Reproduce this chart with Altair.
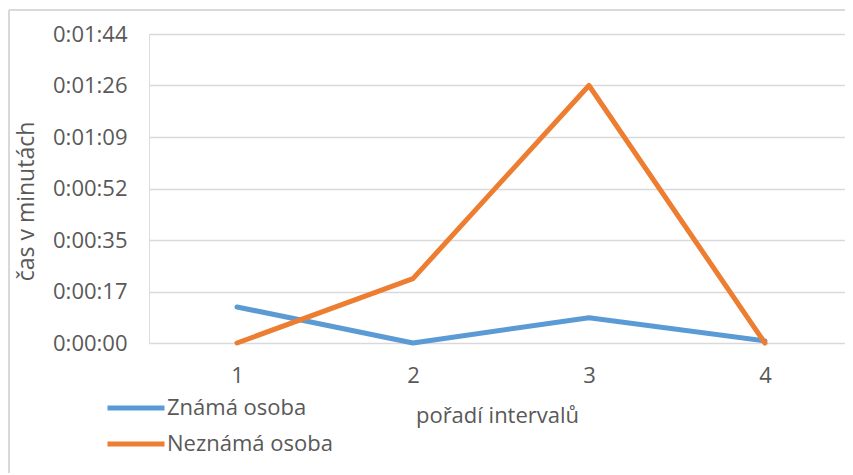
import altair as alt
import pandas as pd

intervals = [1, 2, 3, 4]
known = [12.1, 0.0, 8.5, 0.7]        # seconds
unknown = [0.0, 21.6, 86.4, 0.0]     # seconds
series_names = ["Známá osoba", "Neznámá osoba"]
colors = ["#5B9BD5", "#ED7D31"]
y_ticks = [0, 17.28, 34.56, 51.84, 69.12, 86.4, 103.68]
y_labels = ["0:00:00", "0:00:17", "0:00:35", "0:00:52", "0:01:09", "0:01:26", "0:01:44"]

rows = []
for name, vals in zip(series_names, [known, unknown]):
    for i, v in zip(intervals, vals):
        rows.append({"interval": i, "seconds": v, "series": name})
df = pd.DataFrame(rows)

FONT = "Open Sans"
GREY = "#595959"
FS = 22
label_expr = "[" + ",".join("'" + s + "'" for s in y_labels) + "][round(datum.value / 17.28)]"

lines = alt.Chart(df).mark_line(strokeWidth=5, strokeCap="round", strokeJoin="round").encode(
    x=alt.X("interval:Q",
            scale=alt.Scale(domain=[0.5, 4.4548], nice=False, zero=False),
            axis=alt.Axis(values=intervals, format="d", grid=False, domain=False, ticks=False,
                          labelPadding=22, labelFontSize=FS, labelColor=GREY, labelFont=FONT,
                          title="pořadí intervalů", titleFontSize=FS, titleColor=GREY,
                          titleFont=FONT, titleFontWeight="normal", titlePadding=19)),
    y=alt.Y("seconds:Q",
            scale=alt.Scale(domain=[0, 103.68], nice=False),
            axis=alt.Axis(values=y_ticks, labelExpr=label_expr, grid=True, gridColor="#D9D9D9",
                          gridWidth=1.3, domain=False, ticks=False, labelPadding=22,
                          labelFontSize=FS, labelColor=GREY, labelFont=FONT,
                          title="čas v minutách", titleFontSize=23, titleColor=GREY,
                          titleFont=FONT, titleFontWeight="normal",
                          titleX=-111, titleY=167)),
    color=alt.Color("series:N", sort=series_names,
                    scale=alt.Scale(domain=series_names, range=colors),
                    legend=alt.Legend(title=None, orient="none", legendX=-44, legendY=359,
                                      symbolType="stroke", symbolSize=3249, symbolStrokeWidth=5,
                                      labelFontSize=FS, labelColor=GREY, labelFont=FONT,
                                      labelLimit=400, clipHeight=30,
                                      labelOffset=0, rowPadding=6, direction="vertical")),
    order=alt.Order("interval:Q"),
)

border_left = alt.Chart(df).mark_rule(color="#D9D9D9", strokeWidth=1.2).encode(
    x=alt.value(-140), y=alt.value(-24), y2=alt.value(470))
border_top = alt.Chart(df).mark_rule(color="#D9D9D9", strokeWidth=1.2).encode(
    x=alt.value(-140), x2=alt.value(720), y=alt.value(-24))

chart = alt.layer(border_left, border_top, lines).properties(
    width=696, height=309,
    autosize=alt.AutoSizeParams(type="none"),
    padding={"left": 141, "top": 26, "right": 0, "bottom": 130},
).configure_view(stroke=None).configure(background="white")

chart.save("out.html", embed_options={"renderer": "svg", "actions": False})
